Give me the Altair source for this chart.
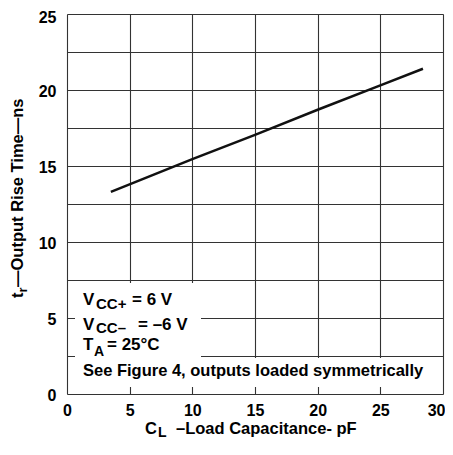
import altair as alt
import pandas as pd

# Data
load_pf = [3.5, 10, 15, 20, 25, 28.4]
rise_ns = [13.3, 15.45, 17.05, 18.7, 20.3, 21.4]
x_ticks = [0, 5, 10, 15, 20, 25, 30]
y_grid = [0, 2.5, 5, 7.5, 10, 12.5, 15, 17.5, 20, 22.5, 25]

notes_main = ["V", "V", "T"]
notes_sub = ["CC+", "CC\u2013", "A"]
notes_rest = ["= 6 V", "= \u20136 V", "= 25\u00b0C"]
note_last = "See Figure 4, outputs loaded symmetrically"

FONT = "Liberation Sans"
W, H = 376, 380

df = pd.DataFrame({"c": load_pf, "t": rise_ns})

base = alt.Chart(df).encode(
    x=alt.X("c:Q", scale=alt.Scale(domain=[0, 30], nice=False),
            axis=alt.Axis(values=x_ticks, title=None, grid=True, ticks=False,
                          domain=False, labelFlush=False, labelPadding=8,
                          labelAlign={"condition": {"test": "datum.value == 30", "value": "right"},
                                      "value": "center"},
                          labelOffset={"condition": {"test": "datum.value == 30", "value": 2},
                                       "value": 0},
                          labelFont=FONT, labelFontSize=16, labelFontWeight="bold",
                          labelColor="black", gridColor="#333", gridWidth=1.1)),
    y=alt.Y("t:Q", scale=alt.Scale(domain=[0, 25], nice=False),
            axis=alt.Axis(values=y_grid, title=None, grid=True, ticks=False,
                          domain=False, labelFlush=False, labelPadding=11,
                          labelExpr="datum.value % 5 == 0 ? datum.label : ''",
                          labelOffset={"condition": {"test": "datum.value >= 25", "value": 3},
                                       "value": 1},
                          labelFont=FONT, labelFontSize=16, labelFontWeight="bold",
                          labelColor="black", gridColor="#333", gridWidth=1.1)),
)

line = base.mark_line(color="#111", strokeWidth=2.5)


def white_box(x1, x2, y1, y2):
    return alt.Chart(pd.DataFrame({"k": [0]})).mark_rect(color="white").encode(
        x=alt.value(x1), x2=alt.value(x2), y=alt.value(y1), y2=alt.value(y2))


def txt(s, x, y, size=16, angle=0, align="left"):
    return alt.Chart(pd.DataFrame({"s": [s]})).mark_text(
        align=align, baseline="alphabetic", font=FONT, fontSize=size,
        fontWeight="bold", color="black", angle=angle
    ).encode(x=alt.value(x), y=alt.value(y), text="s:N")


boxes = [white_box(8, 134, 269, 373), white_box(8, 371, 344, 373)]

rows_y = [291, 316, 336]
sub_dy = [4, 3, 6]
sub_x = [29, 29, 27]
sub_size = [15, 15, 14]
rest_x = [65, 71, 40]
texts = []
for i in range(3):
    texts.append(txt(notes_main[i], 16, rows_y[i], 17))
    texts.append(txt(notes_sub[i], sub_x[i], rows_y[i] + sub_dy[i], sub_size[i]))
    texts.append(txt(notes_rest[i], rest_x[i], rows_y[i], 17))
texts.append(txt(note_last, 16, 362, 16.5))

# axis titles with subscripts
texts.append(txt("C", 78, 420, 16.5))
texts.append(txt("L", 91, 423, 14))
texts.append(txt("\u2013Load Capacitance- pF", 109, 420, 16.5))

texts.append(txt("t", -44, 284, 16.5, angle=270))
texts.append(txt("r", -40, 278.5, 13, angle=270))
texts.append(txt("\u2014Output Rise Time\u2014ns", -44, 273, 16.5, angle=270))

chart = alt.layer(*boxes, line, *texts).properties(
    width=W, height=H,
    autosize=alt.AutoSizeParams(type="none"),
    padding={"left": 59, "top": 6, "right": 2, "bottom": 47},
).configure_view(stroke="black", strokeWidth=1.6).configure(background="white")

chart.save("out.html", embed_options={"renderer": "svg", "actions": False})
